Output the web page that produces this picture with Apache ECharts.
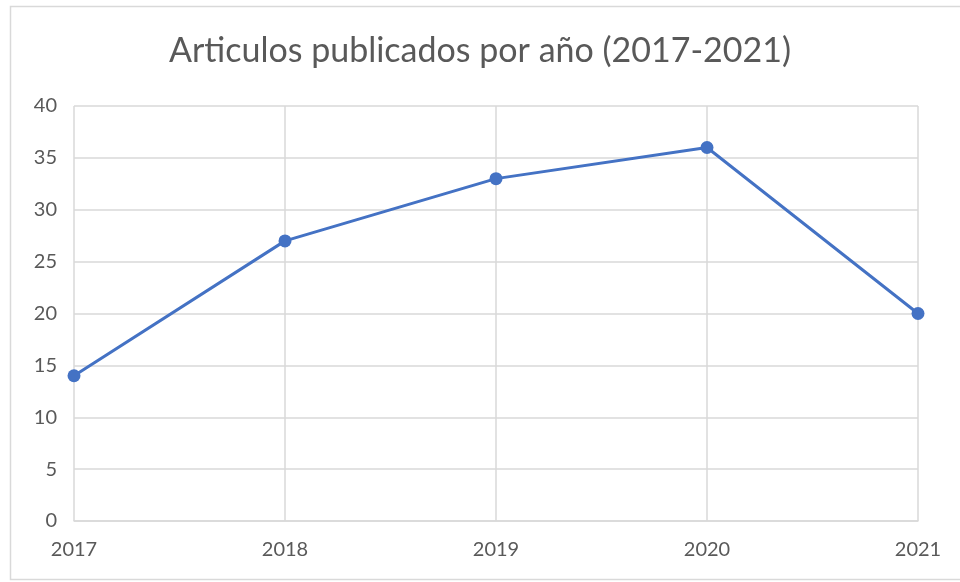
<!DOCTYPE html>
<html>
<head>
<meta charset="utf-8">
<script src="https://cdn.jsdelivr.net/npm/echarts@6/dist/echarts.min.js"></script>
<style>
  html, body { margin: 0; padding: 0; background: #fff; }
  #chart { width: 960px; height: 582px; }
</style>
</head>
<body>
<div id="chart"></div>
<script>
// datos del grafico
var years = ['2017', '2018', '2019', '2020', '2021']
var articulos = [14, 27, 33, 36, 20]
var yTicks = { min: 0, max: 40, step: 5 }

var textColor = '#595959'
var gridColor = '#d9d9d9'
var lineColor = '#4472c4'

var chart = echarts.init(document.getElementById('chart'), null, { renderer: 'canvas' })

chart.setOption({
    backgroundColor: '#fff',
    animation: false,
    title: {
        text: 'Articulos publicados por año (2017-2021)',
        left: 'center',
        top: 29,
        textStyle: {
            fontFamily: 'Lato',
            fontSize: 34,
            fontWeight: 'normal',
            color: textColor
        }
    },
    graphic: [{
        type: 'rect',
        shape: { x: 10.5, y: 6.5, width: 960, height: 573 },
        style: { fill: 'none', stroke: '#d9d9d9', lineWidth: 1.5 },
        silent: true
    }],
    grid: {
        left: 74,
        right: 42,
        top: 106,
        bottom: 61,
        containLabel: false,
        outerBoundsMode: 'none'
    },
    xAxis: {
        type: 'category',
        data: years,
        boundaryGap: false,
        axisLine: { show: true, lineStyle: { color: gridColor, width: 1.5 } },
        axisTick: { show: false },
        axisLabel: {
            color: textColor,
            fontFamily: 'Lato',
            fontSize: 20,
            margin: 19
        },
        splitLine: { show: true, lineStyle: { color: gridColor, width: 1.5 } }
    },
    yAxis: {
        type: 'value',
        min: yTicks.min,
        max: yTicks.max,
        interval: yTicks.step,
        axisLine: { show: false },
        axisTick: { show: false },
        axisLabel: {
            color: textColor,
            fontFamily: 'Lato',
            fontSize: 20,
            margin: 17
        },
        splitLine: { show: true, lineStyle: { color: gridColor, width: 1.5 } }
    },
    series: [{
        type: 'line',
        data: articulos,
        symbol: 'circle',
        symbolSize: 13,
        lineStyle: { color: lineColor, width: 3 },
        itemStyle: { color: lineColor },
        z: 5
    }]
})
</script>
</body>
</html>
